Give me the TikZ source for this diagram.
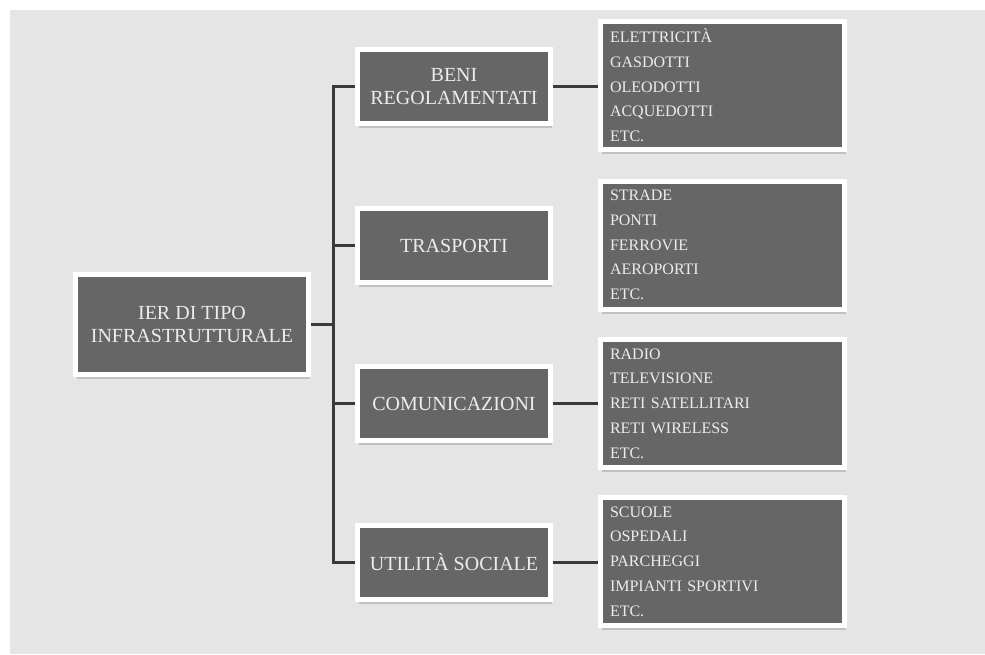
\documentclass[tikz,border=0pt]{standalone}
\usepackage{fontspec}
\setmainfont{Liberation Serif}
\usetikzlibrary{shadows, backgrounds}
\definecolor{boxGray}{RGB}{102, 102, 102}
\definecolor{backGray}{RGB}{229, 229, 229}
\definecolor{lineGray}{RGB}{58, 58, 58}
\definecolor{textWhite}{RGB}{236, 236, 236}

\begin{document}
\begin{tikzpicture}[x=1pt, y=-1pt,
    box/.style={draw=white, line width=5pt, fill=boxGray, text=textWhite, inner sep=0pt,
      drop shadow={shadow xshift=1.5pt, shadow yshift=-4.5pt, opacity=0.35},
      align=center, font=\fontsize{20}{23}\selectfont},
    midbox/.style={box, minimum width=193pt, minimum height=74pt},
    listbox/.style={box, minimum width=244pt, minimum height=128pt, inner xsep=9.5pt,
      text width=225pt, align=left, font=\fontsize{16}{24.7}\selectfont},
    link/.style={lineGray, line width=3pt}]
        \useasboundingbox (0,0) rectangle (985,654);

        % the four groups
        \node[box, minimum width=233pt, minimum height=100pt] (root) at (192,324.5) {IER DI TIPO\\INFRASTRUTTURALE};
        \node[midbox] (beni) at (454,86.5) {BENI\\REGOLAMENTATI};
        \node[midbox] (trasporti) at (454,245.5) {TRASPORTI};
        \node[midbox] (comunicazioni) at (454,403.5) {COMUNICAZIONI};
        \node[midbox] (sociale) at (454,562.5) {UTILITÀ SOCIALE};

        % the lists
        \node[listbox] (listaBeni) at (722.5,85.5) {ELETTRICITÀ\\GASDOTTI\\OLEODOTTI\\ACQUEDOTTI\\ETC.};
        \node[listbox] (listaTrasporti) at (722.5,245) {STRADE\\PONTI\\FERROVIE\\AEROPORTI\\ETC.};
        \node[listbox] (listaCom) at (722.5,403.5) {RADIO\\TELEVISIONE\\RETI SATELLITARI\\RETI WIRELESS\\ETC.};
        \node[listbox] (listaSociale) at (722.5,561.5) {SCUOLE\\OSPEDALI\\PARCHEGGI\\IMPIANTI SPORTIVI\\ETC.};

        \begin{scope}[on background layer]
          \fill[white] (0,0) rectangle (985,654);
          \fill[backGray] (10,10) rectangle (985,654);
          \coordinate (fork) at (333,324.5);
          \draw[link] (root.east) -- (fork);
          \foreach \n in {beni, trasporti, comunicazioni, sociale}
            \draw[link] (\n.west) -| (fork);
          \draw[link] (beni.east) -- (beni.east -| listaBeni.west);
          \draw[link] (comunicazioni.east) -- (comunicazioni.east -| listaCom.west);
          \draw[link] (sociale.east) -- (sociale.east -| listaSociale.west);
        \end{scope}
      \end{tikzpicture}
\end{document}
